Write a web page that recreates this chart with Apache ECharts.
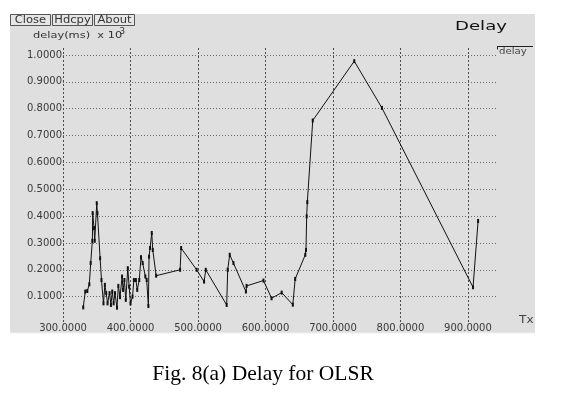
<!DOCTYPE html>
<html><head><meta charset="utf-8">
<script src="https://cdn.jsdelivr.net/npm/echarts@6/dist/echarts.min.js"></script>
<style>html,body{margin:0;padding:0;background:#fff}#c{width:565px;height:393px}</style>
</head><body><div id="c"></div>
<script>
// Data
const tx = [330, 333, 336, 339, 341, 343.5, 344, 346, 347, 350, 351, 355, 357, 360, 362, 364, 366, 369, 371, 373,
  375, 377, 380, 382, 384.5, 387.5, 389, 391, 393, 396, 398, 400, 403, 405, 408, 410, 413, 415.6, 418, 422,
  424, 426.5, 427.5, 429, 431.5, 433, 438, 473.5, 475, 498, 509, 511.5, 542.5, 544, 547, 552.5, 571, 572, 597,
  609, 624, 640.5, 644, 659, 660, 661, 662, 670, 731.5, 772.5, 907.5, 915];
const delay = [0.060, 0.119, 0.121, 0.146, 0.225, 0.308, 0.411, 0.355, 0.308, 0.448, 0.411, 0.243, 0.162, 0.075, 0.144, 0.113, 0.075, 0.113, 0.069, 0.119,
  0.075, 0.113, 0.059, 0.140, 0.098, 0.175, 0.125, 0.162, 0.088, 0.206, 0.137, 0.075, 0.100, 0.162, 0.162, 0.125, 0.162, 0.247, 0.225, 0.175,
  0.162, 0.065, 0.249, 0.281, 0.337, 0.274, 0.178, 0.200, 0.281, 0.200, 0.156, 0.200, 0.069, 0.200, 0.256, 0.225, 0.119, 0.140, 0.160,
  0.094, 0.115, 0.070, 0.166, 0.256, 0.274, 0.399, 0.452, 0.756, 0.977, 0.803, 0.135, 0.382];
const xTicks = [300, 400, 500, 600, 700, 800, 900];
const yTicks = [0.1, 0.2, 0.3, 0.4, 0.5, 0.6, 0.7, 0.8, 0.9, 1.0];
const seriesName = 'delay';
const titleText = 'Delay';
const xName = 'Tx';
const yName = 'delay(ms)  x 10';
const yNameSup = '3';
const buttons = ['Close', 'Hdcpy', 'About'];
const caption = 'Fig. 8(a) Delay for OLSR';

const data = tx.map((v, i) => [v, delay[i]]);
const near = (v, arr) => arr.some(t => Math.abs(t - v) < 1e-6);

const chart = echarts.init(document.getElementById('c'), null, {renderer: 'canvas'});
const labelFont = {fontFamily: 'DejaVu Sans', fontSize: 10, color: '#3a3a3a'};

const btnBoxes = [[10, 40], [52, 40], [94, 40]];
const graphics = [
  {type: 'rect', z: -10, shape: {x: 10, y: 14, width: 525, height: 319}, style: {fill: '#dfdfdf'}},
  {type: 'line', z: -9, shape: {x1: 10, y1: 333, x2: 535, y2: 333}, style: {stroke: '#f0f0f0', lineWidth: 1}},
];
buttons.forEach((b, i) => {
  const [bx, bw] = btnBoxes[i];
  graphics.push({type: 'rect', shape: {x: bx + 0.5, y: 14.5, width: bw, height: 11}, style: {fill: '#e6e6e6', stroke: '#555', lineWidth: 1}});
  graphics.push({type: 'text', x: bx + bw / 2 + 0.5, y: 20.5, scaleX: 1.15, style: {text: b, font: '10px "DejaVu Sans"', fill: '#333', textAlign: 'center', textVerticalAlign: 'middle'}});
});
graphics.push(
  {type: 'text', x: 33, y: 35.5, scaleX: 1.2, style: {text: yName, font: '9.5px "DejaVu Sans"', fill: '#333', textAlign: 'left', textVerticalAlign: 'middle'}},
  {type: 'text', x: 119.5, y: 32, scaleX: 1.1, style: {text: yNameSup, font: '8px "DejaVu Sans"', fill: '#333', textAlign: 'left', textVerticalAlign: 'middle'}},
  {type: 'text', x: 455, y: 26.5, scaleX: 1.45, style: {text: titleText, font: '12.5px "DejaVu Sans"', fill: '#111', textAlign: 'left', textVerticalAlign: 'middle'}},
  {type: 'line', shape: {x1: 497, y1: 46.5, x2: 533, y2: 46.5}, style: {stroke: '#222', lineWidth: 1}},
  {type: 'line', shape: {x1: 497.5, y1: 46.5, x2: 497.5, y2: 49.5}, style: {stroke: '#222', lineWidth: 1}},
  {type: 'text', x: 499, y: 51.5, scaleX: 1.2, style: {text: seriesName, font: '8.5px "DejaVu Sans"', fill: '#444', textAlign: 'left', textVerticalAlign: 'middle'}},
  {type: 'text', x: 519, y: 320, scaleX: 1.1, style: {text: xName, font: '11px "DejaVu Sans"', fill: '#444', textAlign: 'left', textVerticalAlign: 'middle'}},
  {type: 'text', x: 263, y: 374, style: {text: caption, font: '21.5px "Liberation Serif"', fill: '#000', textAlign: 'center', textVerticalAlign: 'middle'}}
);

chart.setOption({
  animation: false,
  backgroundColor: '#ffffff',
  grid: {left: 63, right: 68, top: 48, bottom: 69.5, containLabel: false},
  xAxis: {
    type: 'value', min: 300, max: 943, interval: 100,
    axisLine: {show: false}, axisTick: {show: false},
    axisLabel: Object.assign({margin: 0, showMaxLabel: false,
      formatter: v => near(v, xTicks) ? v.toFixed(4) : ''}, labelFont),
    splitLine: {show: true, showMaxLine: false, lineStyle: {color: '#4a4a4a', type: [2, 2], width: 1}}
  },
  yAxis: {
    type: 'value', min: 0, max: 1.026, interval: 0.1,
    axisLine: {show: false}, axisTick: {show: false},
    axisLabel: Object.assign({margin: 1, showMinLabel: false, showMaxLabel: false,
      formatter: v => near(v, yTicks) ? v.toFixed(4) : ''}, labelFont),
    splitLine: {show: true, showMinLine: false, showMaxLine: false, lineStyle: {color: '#6a6a6a', type: [1, 2], width: 1}}
  },
  graphic: graphics,
  series: [{
    name: seriesName, type: 'line', data: data,
    symbol: 'rect', symbolSize: [2, 4], showAllSymbol: true,
    lineStyle: {color: '#111', width: 1},
    itemStyle: {color: '#111'},
    emphasis: {disabled: true}
  }]
});
</script>
</body></html>
